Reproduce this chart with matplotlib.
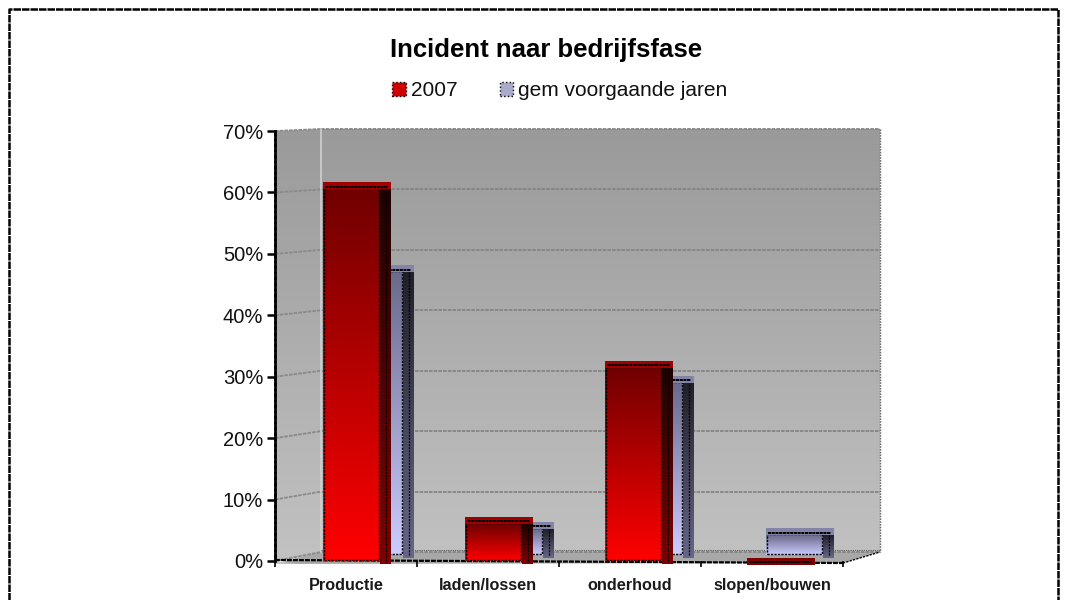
import matplotlib
matplotlib.use("Agg")
import matplotlib.pyplot as plt
import numpy as np
from matplotlib.colors import LinearSegmentedColormap
from matplotlib.patches import Patch, Polygon, Rectangle

plt.rcParams["font.family"] = ["Liberation Sans", "DejaVu Sans"]

categories = ["Productie", "laden/lossen", "onderhoud", "slopen/bouwen"]
series_names = ["2007", "gem voorgaande jaren"]
values_2007 = [60.5, 6, 31.5, 0]
values_prev = [46, 4.2, 28, 3.2]
y_ticks = [0, 10, 20, 30, 40, 50, 60, 70]
y_labels = ["0%", "10%", "20%", "30%", "40%", "50%", "60%", "70%"]

# pixel layout of the fake 3d box
W, H = 1068, 600
X0, X1, Y0, Y70 = 275, 843, 561, 131
BACK_L, BACK_R, BACK_Y0, BACK_Y70 = 321, 880, 552, 129
PX_X = 4 / (X1 - X0)
PX_Y = 70 / (Y0 - Y70)

DASH = (0, (1.6, 0.9))

red_front = LinearSegmentedColormap.from_list("rf", ["#ff0000", "#700000"])
red_side = LinearSegmentedColormap.from_list("rs", ["#800000", "#200000"])
blue_front = LinearSegmentedColormap.from_list("bf", ["#ccccff", "#6a6a8c"])
blue_side = LinearSegmentedColormap.from_list("bs", ["#666688", "#20202a"])
wall_cmap = LinearSegmentedColormap.from_list("w", ["#c2c2c2", "#9a9a9a"])
grad = np.linspace(1, 0, 128).reshape(-1, 1)

fig = plt.figure(figsize=(W / 100, H / 100), dpi=100, facecolor="white")

# background layer in pixels: frame, walls, floor
bg = fig.add_axes([0, 0, 1, 1], zorder=0)
bg.set_xlim(0, W)
bg.set_ylim(H, 0)
bg.axis("off")

bg.plot([9, 9, 1058, 1058], [H, 9, 9, H], color="black", lw=1.8, ls=(0, (3, 0.4)), solid_capstyle="butt")

im = bg.imshow(grad, extent=(X0, BACK_R + 2, BACK_Y0 + 11, BACK_Y70 - 2), cmap=wall_cmap, aspect="auto", zorder=1)
wall_shape = Polygon(
    [(X0, Y70), (BACK_L, BACK_Y70), (BACK_R, BACK_Y70), (BACK_R, BACK_Y0), (X1, Y0 + 2), (X0, Y0)],
    transform=bg.transData, fc="none", ec="none",
)
bg.add_patch(wall_shape)
im.set_clip_path(wall_shape)
bg.set_xlim(0, W)
bg.set_ylim(H, 0)

floor = Polygon([(X0, Y0 + 3), (BACK_L, BACK_Y0), (BACK_R, BACK_Y0), (X1, Y0 + 2)], fc="#a8a8a8", ec="none", zorder=2)
bg.add_patch(floor)
bg.add_patch(Polygon([(X0, Y0), (X0, Y0 + 3), (BACK_L - 25, Y0 + 3)], fc="#c4c4c4", ec="none", zorder=2))

for t in y_ticks:
    yb = BACK_Y0 - (BACK_Y0 - BACK_Y70) * t / 70
    yf = Y0 - (Y0 - Y70) * t / 70
    bg.plot([BACK_L, BACK_R], [yb, yb], color="#858585", lw=1.3, ls=(0, (2, 0.6)), zorder=3)
    bg.plot([X0, BACK_L], [yf, yb], color="#8a8a8a", lw=1.3, ls=(0, (2, 0.6)), zorder=3)

bg.plot([BACK_L, BACK_L], [BACK_Y70, BACK_Y0], color="#d0d0d0", lw=1.2, zorder=3)
bg.plot([BACK_R, BACK_R], [BACK_Y70, BACK_Y0], color="#666666", lw=1.0, ls=(0, (1.2, 0.8)), zorder=3)
bg.plot([BACK_L, BACK_R], [BACK_Y0 - 2, BACK_Y0 - 2], color="#666666", lw=0.8, ls=(0, (1.2, 0.8)), zorder=3)
bg.plot([X0, X1], [Y0 - 1, Y0 + 2], color="black", lw=1.6, ls=(0, (2.2, 0.5)), zorder=3)
bg.plot([X1, BACK_R], [Y0 + 2, BACK_Y0], color="black", lw=1.0, ls=DASH, zorder=3)

# data layer
ax = fig.add_axes([X0 / W, 1 - Y0 / H, (X1 - X0) / W, (Y0 - Y70) / H], zorder=1)
ax.patch.set_visible(False)
for name in ["top", "right", "bottom"]:
    ax.spines[name].set_visible(False)
ax.spines["left"].set_linewidth(2)
ax.spines["left"].set_linestyle((0, (1.6, 0.4)))
ax.set_xticks(range(5))
ax.set_xticklabels([])
ax.set_xticks(np.arange(4) + 0.5, categories, minor=True, fontsize=11.7, fontweight="bold", color="#1a1a1a")
ax.tick_params(axis="x", which="major", length=4, width=1.2, color="black")
ax.tick_params(axis="x", which="minor", length=0, pad=12)
ax.set_yticks(y_ticks, y_labels, fontsize=14.5, color="#111111")
ax.tick_params(axis="y", length=6, width=1.8, pad=2.5)


def gradient_box(x0, x1, y0, y1, cmap, z):
    box = ax.imshow(grad, extent=(x0, x1, y0, y1), cmap=cmap, aspect="auto", zorder=z, vmin=0, vmax=1)
    box.set_clip_on(False)


def draw_bar(i, value, x_off, base_px, front, side, cap, z):
    w = 57 * PX_X
    side_w = 11 * PX_X
    cap_h = 7 * PX_Y
    x0 = i + x_off * PX_X
    x1 = x0 + w
    base = base_px * PX_Y
    top = value + base if value > 0 else -cap_h * 0.6
    if value > 0:
        gradient_box(x0, x1, base, top, front, z)
        gradient_box(x1, x1 + side_w, base - 3 * PX_Y, top, side, z)
        ax.add_patch(Rectangle((x0 + PX_X, base + PX_Y), w - 2 * PX_X, top - base, fill=False, ec="black",
                               lw=1.0, ls=DASH, zorder=z + 0.1, clip_on=False))
        ax.plot([x1 + 6 * PX_X] * 2, [base, top], color="black", lw=0.9, ls=DASH, zorder=z + 0.1, clip_on=False)
    ax.add_patch(Rectangle((x0, top), w + side_w, cap_h, fc=cap, ec="none", zorder=z + 0.2, clip_on=False))
    ax.plot([x0 + 2 * PX_X, x1 + 8 * PX_X], [top + cap_h * 0.4] * 2, color="black", lw=1.4,
            ls=(0, (1.6, 0.3)), zorder=z + 0.3, clip_on=False)


for i, b in enumerate(values_prev):
    draw_bar(i, b, 71 - 2 * i, 6, blue_front, blue_side, "#8484a8", 2)
for i, a in enumerate(values_2007):
    draw_bar(i, a, 48 - (i > 1) * 2, 0, red_front, red_side, "#a00000" if a > 0 else "#800000", 4)

ax.set_xlim(0, 4)
ax.set_ylim(0, 70)

fig.text(546 / W, 1 - 50 / H, "Incident naar bedrijfsfase", ha="center", va="center", fontsize=18.5, fontweight="bold", color="black")

handles = [
    Patch(fc="#d00000", ec="black", ls=":", lw=1.0),
    Patch(fc="#aaaacc", ec="black", ls=":", lw=1.0),
]
fig.legend(handles, series_names, ncol=2, loc="center", bbox_to_anchor=(560 / W, 1 - 91 / H), frameon=False,
           fontsize=15, handlelength=0.65, handleheight=0.65, handletextpad=0.25, columnspacing=2.0, labelcolor="#111111")

fig.savefig("out.png", dpi=100)
